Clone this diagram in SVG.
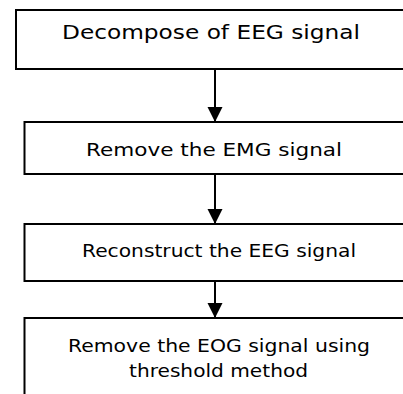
<svg xmlns="http://www.w3.org/2000/svg" width="403" height="394" viewBox="0 0 403 394">
<defs>
<style>
.box{fill:#fff;stroke:#000;stroke-width:2}
.t{font-family:"DejaVu Sans",sans-serif;fill:#000;text-anchor:middle}
.c{stroke:#000;stroke-width:2;fill:none}
</style>
<marker id="ah" markerUnits="userSpaceOnUse" markerWidth="16" markerHeight="16" refX="15" refY="7.5" orient="auto">
<path d="M0,0 L15,7.5 L0,15 Z" fill="#000"/>
</marker>
</defs>
<rect width="403" height="394" fill="#fff"/>
<g id="n1"><rect class="box" x="16" y="10" width="400" height="59"/>
<text class="t" x="211" y="38.5" font-size="20" textLength="298" lengthAdjust="spacingAndGlyphs">Decompose of EEG signal</text></g>
<g id="n2"><rect class="box" x="24.5" y="122" width="400" height="52"/>
<text class="t" x="214" y="156" font-size="18" textLength="256" lengthAdjust="spacingAndGlyphs">Remove the EMG signal</text></g>
<g id="n3"><rect class="box" x="24.5" y="224" width="400" height="57"/>
<text class="t" x="219" y="257" font-size="18" textLength="274" lengthAdjust="spacingAndGlyphs">Reconstruct the EEG signal</text></g>
<g id="n4"><rect class="box" x="24.5" y="318" width="400" height="100"/>
<text class="t" x="219" y="352" font-size="18" textLength="302" lengthAdjust="spacingAndGlyphs">Remove the EOG signal using</text>
<text class="t" x="218.5" y="377" font-size="18" textLength="179" lengthAdjust="spacingAndGlyphs">threshold method</text></g>
<g id="connectors">
<line class="c" x1="215" y1="69" x2="215" y2="122" marker-end="url(#ah)"/>
<line class="c" x1="215" y1="174" x2="215" y2="224" marker-end="url(#ah)"/>
<line class="c" x1="215" y1="281" x2="215" y2="318" marker-end="url(#ah)"/>
</g>
</svg>
